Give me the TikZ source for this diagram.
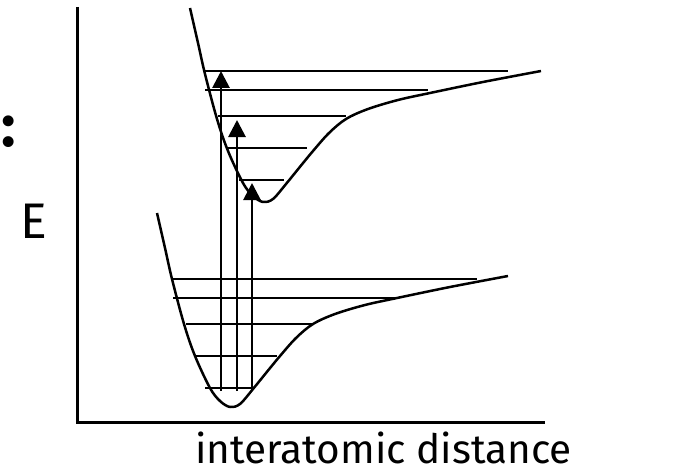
\documentclass[tikz,border=0pt]{standalone}
\usepackage{fontspec}
\setmainfont{Fira Sans}
\usetikzlibrary{arrows.meta}
\tikzset{
  axis/.style={line width=3pt},
  well/.style={line width=2.5pt, line join=round},
  level/.style={line width=2.6pt},
  trans/.style={line width=2.8pt, -{Triangle[width=17pt,length=17pt]}},
  lbl/.style={inner sep=0pt, anchor=base west}
}
\newcommand\wellpath{plot[smooth, tension=0.55] coordinates {(157,213) (165,248) (172,279) (184,324) (195,356) (210,388) (220,401) (230,407) (240,404) (253,389) (266,373) (280,356) (296,338) (313,324) (335,314) (365,305) (397,298) (450,287) (508,276)}}
\begin{document}
\begin{tikzpicture}[x=1pt,y=-1pt]
\useasboundingbox (0,0) rectangle (698,476);
% axes
\coordinate (top) at (77,7);
\coordinate (origin) at (77,422);
\coordinate (right) at (545,422);
\draw[axis] (top) -- (origin) -- (right);
% labels
\node[lbl] (E) at (20,238) {\fontsize{50}{50}\selectfont E};
\node[lbl] (dist) at (195,463) {\fontsize{40.5}{40.5}\selectfont interatomic distance};
\node[inner sep=0pt, anchor=west] (colon) at (1,132) {\fontsize{60}{60}\selectfont\bfseries :};
% potential wells
\draw[well] \wellpath;
\draw[well, shift={(33,-205)}] \wellpath;
% lower levels
\draw[level] (172,279) -- (477,279);
\draw[level] (173,298) -- (397,298);
\draw[level] (186,324) -- (313,324);
\draw[level] (195,356) -- (277,356);
\draw[level] (205,388) -- (253,388);
% upper levels
\draw[level] (205,71) -- (508,71);
\draw[level] (205,90) -- (428,90);
\draw[level] (218,116) -- (346,116);
\draw[level] (227,148) -- (307,148);
\draw[level] (239,180) -- (284,180);
% transitions
\coordinate (a1) at (221,391); \coordinate (b1) at (221,71);
\coordinate (a2) at (237,391); \coordinate (b2) at (237,120);
\coordinate (a3) at (252,391); \coordinate (b3) at (252,183);
\draw[trans] (a1) -- (b1);
\draw[trans] (a2) -- (b2);
\draw[trans] (a3) -- (b3);
\end{tikzpicture}
\end{document}
